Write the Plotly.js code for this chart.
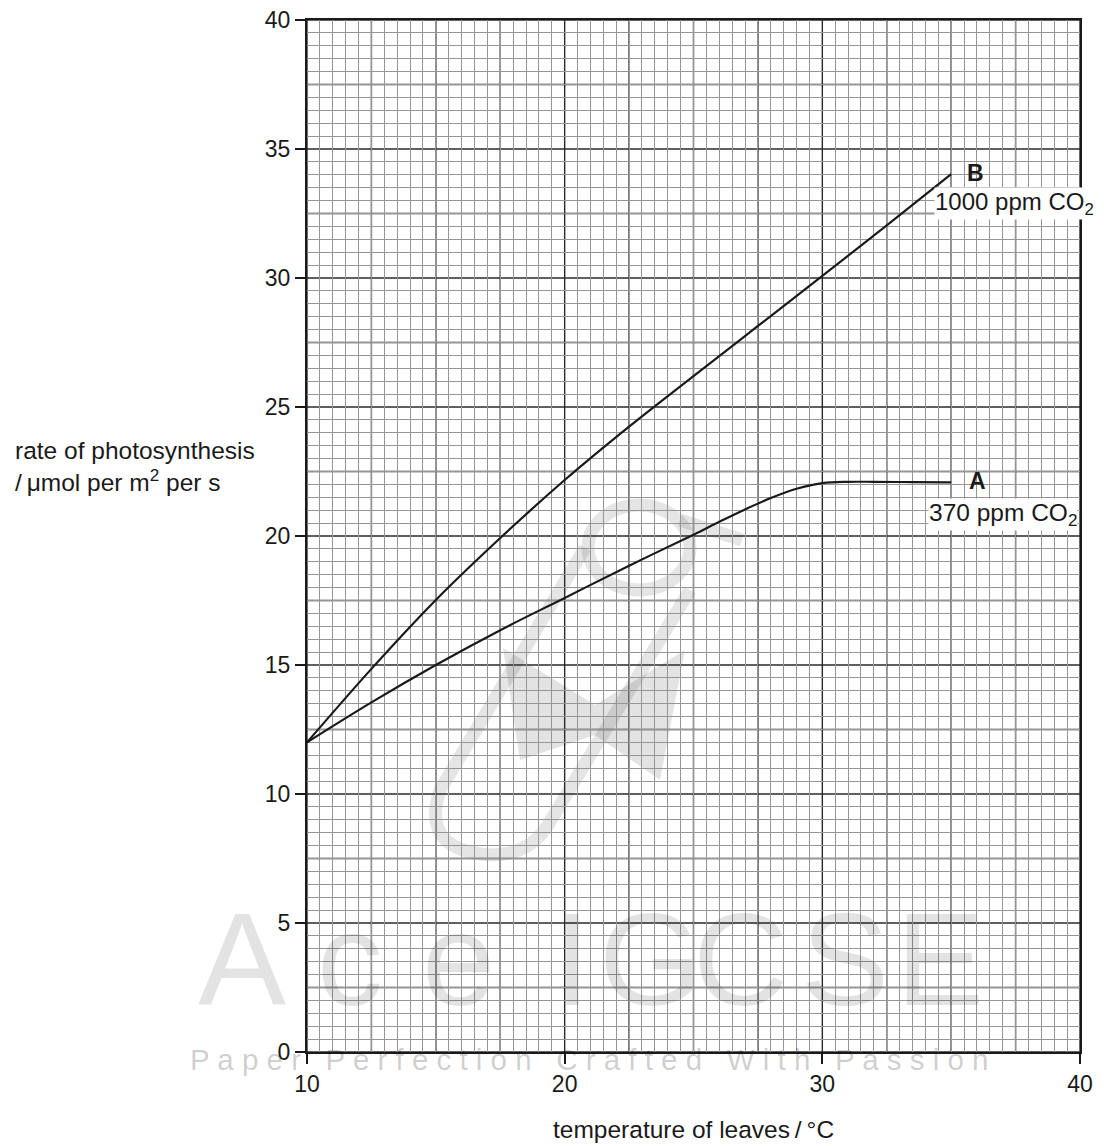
<!DOCTYPE html>
<html>
<head>
<meta charset="utf-8">
<script src="https://cdn.plot.ly/plotly-3.0.1.min.js"></script>
<style>
  html, body { margin: 0; padding: 0; background: #ffffff; }
  #chart { width: 1104px; height: 1146px; }
</style>
</head>
<body>
<div id="chart"></div>
<script>
// ---- data ----
const temperatureB = [10, 12.5, 15, 17.5, 20, 22.5, 25, 27.5, 30, 32.5, 35];
const rateB        = [12, 14.85, 17.52, 19.92, 22.17, 24.24, 26.2, 28.14, 30.08, 32.04, 34.03];

const temperatureA = [10, 12.5, 15, 17.5, 20, 22.5, 25, 26, 27, 28, 29, 30, 31, 32, 33.5, 35];
const rateA        = [12, 13.55, 15, 16.35, 17.6, 18.85, 20.05, 20.55, 21.03, 21.47, 21.83, 22.05, 22.1, 22.1, 22.09, 22.08];

const curveLabels  = ['A', 'B'];
const curveNotes   = ['370 ppm CO<sub>2</sub>', '1000 ppm CO<sub>2</sub>'];

const xTitle = 'temperature of leaves\u2009/\u2009°C';
const yTitle = 'rate of photosynthesis<br>/\u2009μmol per m<sup>2</sup> per s';

const watermarkLetters = ['A', 'c', 'e', 'I', 'G', 'C', 'S', 'E'];
const watermarkTagline = 'Paper Perfection Crafted With Passion';

// ---- ranges / grid ----
const xRange = [10, 40];
const yRange = [0, 40];
const midStep = 2.5;

const FONT = 'Liberation Sans, Arial, Helvetica, sans-serif';
const INK = '#1a1a1a';

const traces = [
  {
    x: temperatureA, y: rateA, type: 'scatter', mode: 'lines',
    line: { color: INK, width: 2.2, shape: 'spline', smoothing: 1 },
    hoverinfo: 'skip', showlegend: false
  },
  {
    x: temperatureB, y: rateB, type: 'scatter', mode: 'lines',
    line: { color: INK, width: 2.2, shape: 'spline', smoothing: 1 },
    hoverinfo: 'skip', showlegend: false
  }
];

// plot-area pixel helpers for the decorative watermark logo
const PL = 307, PW = 773, PT = 20, PH = 1032;
const px = (x) => ((x - PL) / PW).toFixed(4);
const py = (y) => ((PT + PH - y) / PH).toFixed(4);
const P = (x, y) => px(x) + ',' + py(y);

const shapes = [];
const WM = 'rgba(0,0,0,0.10)';
// test tube outline
shapes.push({ type: 'path', layer: 'between', xref: 'paper', yref: 'paper',
  path: 'M' + P(585, 548) + ' L' + P(440, 790) + ' Q' + P(420, 850) + ' ' + P(490, 855) +
        ' Q' + P(530, 855) + ' ' + P(548, 825) + ' L' + P(690, 590),
  line: { color: WM, width: 13 }, fillcolor: 'rgba(0,0,0,0)' });
// bow-tie
shapes.push({ type: 'path', layer: 'between', xref: 'paper', yref: 'paper',
  path: 'M' + P(503, 648) + ' L' + P(595, 705) + ' L' + P(685, 650) + ' L' + P(660, 780) +
        ' L' + P(595, 735) + ' L' + P(520, 760) + ' Z',
  line: { width: 0 }, fillcolor: 'rgba(0,0,0,0.11)' });
// ring
shapes.push({ type: 'circle', layer: 'between', xref: 'paper', yref: 'paper',
  x0: px(588), x1: px(690), y0: py(590), y1: py(505),
  line: { color: WM, width: 13 }, fillcolor: 'rgba(0,0,0,0)' });
shapes.push({ type: 'path', layer: 'between', xref: 'paper', yref: 'paper',
  path: 'M' + P(680, 520) + ' L' + P(742, 540),
  line: { color: WM, width: 13 } });

// darker grid lines every 2.5 units (between gridlines and traces)
for (let v = xRange[0]; v <= xRange[1] + 1e-9; v += midStep) {
  shapes.push({ type: 'line', layer: 'between', xref: 'x', yref: 'paper',
    x0: v, x1: v, y0: 0, y1: 1, line: { color: '#2a2a2a', width: 1.4 } });
}
for (let v = yRange[0]; v <= yRange[1] + 1e-9; v += midStep) {
  shapes.push({ type: 'line', layer: 'between', xref: 'paper', yref: 'y',
    x0: 0, x1: 1, y0: v, y1: v, line: { color: '#2a2a2a', width: 1.4 } });
}

const annotations = [];

// watermark big letters
const wmX = [242, 350, 458, 572, 650, 740, 845, 940];
watermarkLetters.forEach((ch, i) => {
  annotations.push({
    xref: 'paper', yref: 'paper',
    x: (wmX[i] - 307) / 773, y: 0.09,
    xanchor: 'center', yanchor: 'middle',
    text: ch, showarrow: false,
    font: { family: FONT, size: 132, color: 'rgba(0,0,0,0.11)' }
  });
});
// watermark tagline (letter-spaced)
const spaced = watermarkTagline.split(' ').map(w => w.split('').join(' ')).join('\u00a0\u00a0\u00a0');
annotations.push({
  xref: 'paper', yref: 'paper',
  x: (589 - 307) / 773, y: (1052 - 1059) / 1032,
  xanchor: 'center', yanchor: 'middle',
  text: spaced, showarrow: false,
  font: { family: FONT, size: 29.5, color: 'rgba(0,0,0,0.2)' }
});

// curve labels
const endsA = [temperatureA[temperatureA.length - 1], rateA[rateA.length - 1]];
const endsB = [temperatureB[temperatureB.length - 1], rateB[rateB.length - 1]];
[[endsA, 0, 18, -32, -23, 24.5], [endsB, 1, 16, -29, -17, 24]].forEach(([end, i, lx, ny, nx, fs]) => {
  annotations.push({
    x: end[0], y: end[1], xref: 'x', yref: 'y',
    xanchor: 'center', yanchor: 'middle', xshift: lx + 8, yshift: 1,
    text: '<b>' + curveLabels[i] + '</b>', showarrow: false,
    font: { family: FONT, size: 23, color: INK }
  });
  annotations.push({
    x: end[0], y: end[1], xref: 'x', yref: 'y',
    xanchor: 'left', yanchor: 'middle', xshift: nx, yshift: ny,
    text: curveNotes[i], showarrow: false, bgcolor: '#ffffff', borderpad: 0,
    font: { family: FONT, size: fs, color: INK }
  });
});

// axis titles
annotations.push({
  xref: 'paper', yref: 'paper', x: (13 - 307) / 773, y: (1052 - 466) / 1032,
  xanchor: 'left', yanchor: 'middle', align: 'left',
  text: yTitle, showarrow: false,
  font: { family: FONT, size: 24.5, color: INK }
});
annotations.push({
  xref: 'paper', yref: 'paper', x: 0.5, y: (1052 - 1129) / 1032,
  xanchor: 'center', yanchor: 'middle',
  text: xTitle, showarrow: false,
  font: { family: FONT, size: 24.5, color: INK }
});

const layout = {
  width: 1104, height: 1146,
  margin: { l: 307, r: 24, t: 20, b: 94 },
  paper_bgcolor: '#ffffff', plot_bgcolor: '#ffffff',
  font: { family: FONT, color: INK },
  showlegend: false,
  xaxis: {
    range: xRange, tickmode: 'linear', tick0: 10, dtick: 10,
    ticks: 'outside', ticklen: 10, tickwidth: 2, tickcolor: INK,
    tickfont: { family: FONT, size: 23, color: INK },
    showgrid: false, zeroline: false,
    showline: true, linecolor: INK, linewidth: 2, mirror: true,
    minor: { tickmode: 'linear', tick0: 10, dtick: 0.5, showgrid: true, gridcolor: '#969696', gridwidth: 1, ticks: '' },
    fixedrange: true
  },
  yaxis: {
    range: yRange, tickmode: 'linear', tick0: 0, dtick: 5,
    ticks: 'outside', ticklen: 10, tickwidth: 2, tickcolor: INK,
    tickfont: { family: FONT, size: 23, color: INK },
    showgrid: false, zeroline: false,
    showline: true, linecolor: INK, linewidth: 2, mirror: true,
    minor: { tickmode: 'linear', tick0: 0, dtick: 0.5, showgrid: true, gridcolor: '#969696', gridwidth: 1, ticks: '' },
    fixedrange: true
  },
  shapes: shapes,
  annotations: annotations
};

Plotly.newPlot('chart', traces, layout, { staticPlot: true, displayModeBar: false });
</script>
</body>
</html>
